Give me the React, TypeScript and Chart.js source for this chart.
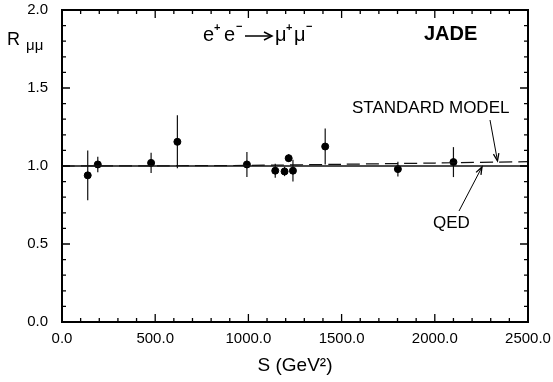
import React, { useEffect, useRef } from "react";
import { Chart, registerables } from "chart.js";
Chart.register(...registerables);

const sValues = [138, 192, 478, 619, 992, 1144, 1194, 1216, 1239, 1412, 1802, 2100];
const rValues = [0.94, 1.01, 1.02, 1.155, 1.01, 0.97, 0.965, 1.05, 0.97, 1.125, 0.98, 1.025];
const rErrors = [0.16, 0.05, 0.065, 0.17, 0.08, 0.045, 0.03, 0.025, 0.07, 0.115, 0.048, 0.096];
const smS = [0, 500, 1000, 1500, 2000, 2500];
const smR = [1.0, 1.001, 1.004, 1.011, 1.019, 1.028];
const qedS = [0, 2500];
const qedR = [1, 1];
const xMajorStep = 500;
const xMinorStep = 100;
const yMajorStep = 0.5;
const yMinorStep = 0.1;

const FONT = "'Liberation Sans', Arial, sans-serif";

const decorPlugin = {
  id: "decor",
  beforeDatasetsDraw(chart: any) {
    const ctx = chart.ctx;
    const xs = chart.scales.x;
    const ys = chart.scales.y;
    ctx.save();
    ctx.strokeStyle = "#111";
    ctx.lineWidth = 1.2;
    sValues.forEach((s, i) => {
      const px = xs.getPixelForValue(s);
      ctx.beginPath();
      ctx.moveTo(px, ys.getPixelForValue(rValues[i] + rErrors[i]));
      ctx.lineTo(px, ys.getPixelForValue(rValues[i] - rErrors[i]));
      ctx.stroke();
    });
    ctx.restore();
  },
  afterDraw(chart: any) {
    const ctx = chart.ctx;
    const xs = chart.scales.x;
    const ys = chart.scales.y;
    const a = chart.chartArea;
    ctx.save();
    ctx.strokeStyle = "#000";
    ctx.lineWidth = 2;
    ctx.strokeRect(a.left, a.top, a.right - a.left, a.bottom - a.top);
    ctx.lineWidth = 1.3;
    for (let v = xs.min; v <= xs.max + 1e-6; v += xMinorStep) {
      const px = xs.getPixelForValue(v);
      const major = Math.abs(v / xMajorStep - Math.round(v / xMajorStep)) < 1e-6;
      const len = major ? 8 : 4;
      ctx.beginPath();
      ctx.moveTo(px, a.bottom);
      ctx.lineTo(px, a.bottom - len);
      ctx.moveTo(px, a.top);
      ctx.lineTo(px, a.top + len);
      ctx.stroke();
    }
    for (let v = ys.min; v <= ys.max + 1e-6; v += yMinorStep) {
      const py = ys.getPixelForValue(v);
      const major = Math.abs(v / yMajorStep - Math.round(v / yMajorStep)) < 1e-6;
      const len = major ? 8 : 4;
      ctx.beginPath();
      ctx.moveTo(a.left, py);
      ctx.lineTo(a.left + len, py);
      ctx.moveTo(a.right, py);
      ctx.lineTo(a.right - len, py);
      ctx.stroke();
    }

    ctx.fillStyle = "#000";
    ctx.textAlign = "left";
    ctx.textBaseline = "alphabetic";
    ctx.font = `18px ${FONT}`;
    ctx.fillText("R", 7, 45);
    ctx.font = `15px ${FONT}`;
    ctx.fillText("μμ", 26, 50);

    const big = `20px ${FONT}`;
    const sup = `bold 11px ${FONT}`;
    ctx.font = big;
    ctx.fillText("e", 203, 41);
    ctx.font = sup;
    ctx.fillText("+", 214, 31);
    ctx.font = big;
    ctx.fillText("e", 224, 41);
    ctx.font = sup;
    ctx.fillText("−", 236, 30);
    ctx.lineWidth = 1.5;
    ctx.beginPath();
    ctx.moveTo(245, 36);
    ctx.lineTo(271, 36);
    ctx.stroke();
    ctx.beginPath();
    ctx.moveTo(264, 32);
    ctx.lineTo(272, 36);
    ctx.lineTo(264, 40);
    ctx.stroke();
    ctx.font = big;
    ctx.fillText("μ", 275, 41);
    ctx.font = sup;
    ctx.fillText("+", 286, 31);
    ctx.font = big;
    ctx.fillText("μ", 294, 41);
    ctx.font = sup;
    ctx.fillText("−", 306, 30);

    ctx.font = `bold 20px ${FONT}`;
    ctx.fillText("JADE", 424, 40);

    ctx.font = `17px ${FONT}`;
    ctx.fillText("STANDARD MODEL", 352, 113);
    ctx.fillText("QED", 433, 228);

    const arrow = (x1: number, y1: number, x2: number, y2: number) => {
      ctx.lineWidth = 1;
      ctx.beginPath();
      ctx.moveTo(x1, y1);
      ctx.lineTo(x2, y2);
      ctx.stroke();
      const ang = Math.atan2(y2 - y1, x2 - x1);
      const h = 8;
      ctx.lineWidth = 1.3;
      ctx.beginPath();
      ctx.moveTo(x2 - h * Math.cos(ang - 0.35), y2 - h * Math.sin(ang - 0.35));
      ctx.lineTo(x2, y2);
      ctx.lineTo(x2 - h * Math.cos(ang + 0.35), y2 - h * Math.sin(ang + 0.35));
      ctx.stroke();
    };
    arrow(490, 120, 497.5, 161);
    arrow(459, 211, 482, 167);
    ctx.restore();
  },
};

export default function App() {
  const ref = useRef<HTMLCanvasElement | null>(null);
  useEffect(() => {
    if (!ref.current) return;
    const chart = new Chart(ref.current, {
      type: "scatter",
      data: {
        datasets: [
          {
            type: "line",
            label: "QED",
            data: qedS.map((s, i) => ({ x: s, y: qedR[i] })),
            borderColor: "#111",
            borderWidth: 1.6,
            pointRadius: 0,
            fill: false,
          } as any,
          {
            type: "line",
            label: "Standard Model",
            data: smS.map((s, i) => ({ x: s, y: smR[i] })),
            borderColor: "#111",
            borderWidth: 1.2,
            borderDash: [13, 6],
            pointRadius: 0,
            tension: 0.3,
            fill: false,
          } as any,
          {
            label: "JADE",
            data: sValues.map((s, i) => ({ x: s, y: rValues[i] })),
            backgroundColor: "#000",
            borderColor: "#000",
            pointRadius: 3.5,
            pointHoverRadius: 3.5,
          },
        ],
      },
      options: {
        animation: false,
        responsive: false,
        maintainAspectRatio: false,
        layout: { padding: { left: 0, right: 25, top: 10, bottom: 0 } },
        plugins: { legend: { display: false }, tooltip: { enabled: false } },
        scales: {
          x: {
            type: "linear",
            min: 0,
            max: 2500,
            afterFit: (s: any) => {
              s.height = 60;
              s.paddingLeft = 0;
              s.paddingRight = 0;
            },
            ticks: {
              stepSize: xMajorStep,
              callback: (v: any) => Number(v).toFixed(1),
              font: { family: FONT, size: 15 },
              color: "#000",
              padding: 8,
              maxRotation: 0,
            },
            grid: { display: false, drawTicks: false },
            border: { display: false },
            title: {
              display: true,
              text: "S (GeV²)",
              font: { family: FONT, size: 19 },
              color: "#000",
              padding: { top: 0, bottom: 5 },
            },
          },
          y: {
            type: "linear",
            min: 0,
            max: 2,
            afterFit: (s: any) => {
              s.width = 62;
              s.paddingTop = 0;
              s.paddingBottom = 0;
            },
            ticks: {
              stepSize: yMajorStep,
              callback: (v: any) => Number(v).toFixed(1),
              font: { family: FONT, size: 15 },
              color: "#000",
              padding: 14,
            },
            grid: { display: false, drawTicks: false },
            border: { display: false },
          },
        },
      },
      plugins: [decorPlugin],
    } as any);
    return () => chart.destroy();
  }, []);
  return (
    <div style={{ position: "fixed", left: 0, top: 0, width: 553, height: 382, background: "#fff" }}>
      <canvas ref={ref} width={553} height={382} style={{ width: 553, height: 382 }} />
    </div>
  );
}
